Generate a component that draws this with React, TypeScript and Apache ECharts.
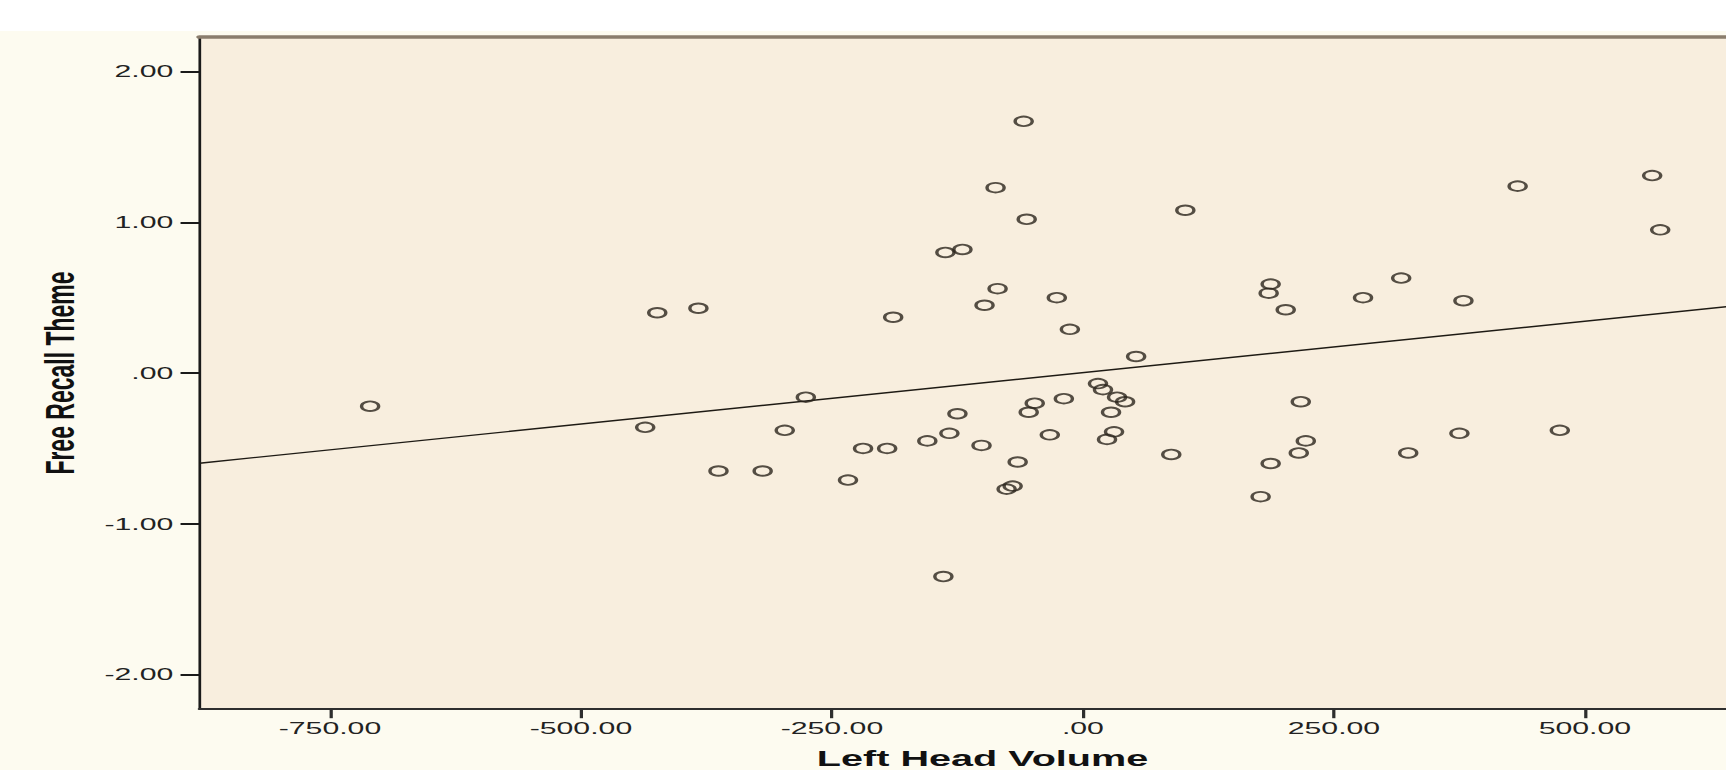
import React, { useEffect, useRef } from "react";
import * as echarts from "echarts";

// Left Head Volume (x) and Free Recall Theme (y)
const leftHeadVolume = [
  -710, -424, -383, -436,
  -59, -87, -56, 102, -137, -120, -85, -98, -26, -13, -189, 53, -276, 15, 20, 34,
  42, -19, -48, -54, 28, -125, -297, 31, 24, -133, -155, -33, -101, -219, -195, 88,
  -65, -363, -319, -234, -70, -76,
  -139,
  433, 567, 575, 187, 185, 202, 279, 317, 379, 217, 222, 215, 187, 177, 324, 375, 475,
];
const freeRecallTheme = [
  -0.22, 0.4, 0.43, -0.36,
  1.67, 1.23, 1.02, 1.08, 0.8, 0.82, 0.56, 0.45, 0.5, 0.29, 0.37, 0.11, -0.16, -0.07, -0.11, -0.16,
  -0.19, -0.17, -0.2, -0.26, -0.26, -0.27, -0.38, -0.39, -0.44, -0.4, -0.45, -0.41, -0.48, -0.5, -0.5, -0.54,
  -0.59, -0.65, -0.65, -0.71, -0.75, -0.77,
  -1.35,
  1.24, 1.31, 0.95, 0.59, 0.53, 0.42, 0.5, 0.63, 0.48, -0.19, -0.45, -0.53, -0.6, -0.82, -0.53, -0.4, -0.38,
];

// Fit line end points
const fitLineX = [-880, 680];
const fitLineY = [-0.598, 0.467];

const xTickValues = [-750, -500, -250, 0, 250, 500];
const xTickLabels = ["-750.00", "-500.00", "-250.00", ".00", "250.00", "500.00"];
const yTickValues = [-2, -1, 0, 1, 2];
const yTickLabels = ["-2.00", "-1.00", ".00", "1.00", "2.00"];

const xRange = [-880, 680];
const yRange = [-2.23, 2.23];

const STRETCH = 1.8;
const PAGE_W = 1726;
const PAGE_H = 770;
const INNER_W = PAGE_W / STRETCH;

function labelFrom(values: number[], labels: string[]) {
  return (v: number) => {
    const i = values.findIndex((t) => Math.abs(t - v) < 1e-9);
    return i >= 0 ? labels[i] : "";
  };
}

export default function App() {
  const ref = useRef<HTMLDivElement>(null);

  useEffect(() => {
    if (!ref.current) return;
    const chart = echarts.init(ref.current, null, { renderer: "svg" });
    const font = "'Liberation Sans', Arial, sans-serif";
    chart.setOption({
      animation: false,
      backgroundColor: "#fdfbf0",
      graphic: [
        {
          type: "rect",
          left: 0,
          top: 0,
          shape: { width: INNER_W + 2, height: 31 },
          style: { fill: "#ffffff" },
          silent: true,
        },
      ],
      grid: {
        left: 110.8,
        top: 36.9,
        width: 870.1,
        height: 672.3,
        outerBoundsMode: "none",
        containLabel: false,
        show: true,
        backgroundColor: "#f8eede",
        borderWidth: 0,
      },
      xAxis: [
        {
          type: "value",
          min: xRange[0],
          max: xRange[1],
          position: "bottom",
          axisLine: { show: true, onZero: false, lineStyle: { color: "#2e2e2e", width: 2 } },
          axisTick: {
            show: true,
            customValues: xTickValues,
            length: 9,
            lineStyle: { color: "#2e2e2e", width: 1.8 },
          },
          axisLabel: {
            customValues: xTickValues,
            formatter: labelFrom(xTickValues, xTickLabels),
            margin: 10,
            fontFamily: font,
            fontSize: 16.8,
            color: "#222222",
          },
          splitLine: { show: false },
          name: "Left Head Volume",
          nameLocation: "middle",
          nameGap: 38,
          nameTextStyle: { fontFamily: font, fontWeight: "bold", fontSize: 22, color: "#111111" },
        },
        {
          type: "value",
          min: xRange[0],
          max: xRange[1],
          position: "top",
          axisLine: { show: true, onZero: false, lineStyle: { color: "#8a7d6d", width: 3.5 } },
          axisTick: { show: false },
          axisLabel: { show: false },
          splitLine: { show: false },
        },
      ],
      yAxis: {
        type: "value",
        min: yRange[0],
        max: yRange[1],
        axisLine: { show: true, onZero: false, lineStyle: { color: "#1a1a1a", width: 1.5 } },
        axisTick: {
          show: true,
          customValues: yTickValues,
          length: 10.5,
          lineStyle: { color: "#1a1a1a", width: 2 },
        },
        axisLabel: {
          customValues: yTickValues,
          formatter: labelFrom(yTickValues, yTickLabels),
          margin: 14.5,
          fontFamily: font,
          fontSize: 16.8,
          color: "#222222",
        },
        splitLine: { show: false },
        name: "Free Recall Theme",
        nameLocation: "middle",
        nameGap: 66,
        nameTextStyle: { fontFamily: font, fontWeight: "bold", fontSize: 23, color: "#111111" },
      },
      series: [
        {
          type: "line",
          xAxisIndex: 0,
          data: fitLineX.map((x, i) => [x, fitLineY[i]]),
          symbol: "none",
          lineStyle: { color: "#1e1a14", width: 1.4 },
          silent: true,
          z: 2,
        },
        {
          type: "scatter",
          xAxisIndex: 0,
          data: leftHeadVolume.map((x, i) => [x, freeRecallTheme[i]]),
          symbol: "circle",
          symbolSize: 9.5,
          itemStyle: { color: "rgba(0,0,0,0)", borderColor: "#2a241c", borderWidth: 1.9 },
          emphasis: { disabled: true },
          silent: true,
          z: 3,
        },
      ],
    });
    return () => chart.dispose();
  }, []);

  return (
    <div
      style={{
        position: "fixed",
        left: 0,
        top: 0,
        width: PAGE_W,
        height: PAGE_H,
        overflow: "hidden",
        background: "#ffffff",
      }}
    >
      <div
        ref={ref}
        style={{
          position: "absolute",
          left: 0,
          top: 0,
          width: INNER_W,
          height: PAGE_H,
          transform: `scaleX(${STRETCH})`,
          transformOrigin: "0 0",
        }}
      />
    </div>
  );
}
